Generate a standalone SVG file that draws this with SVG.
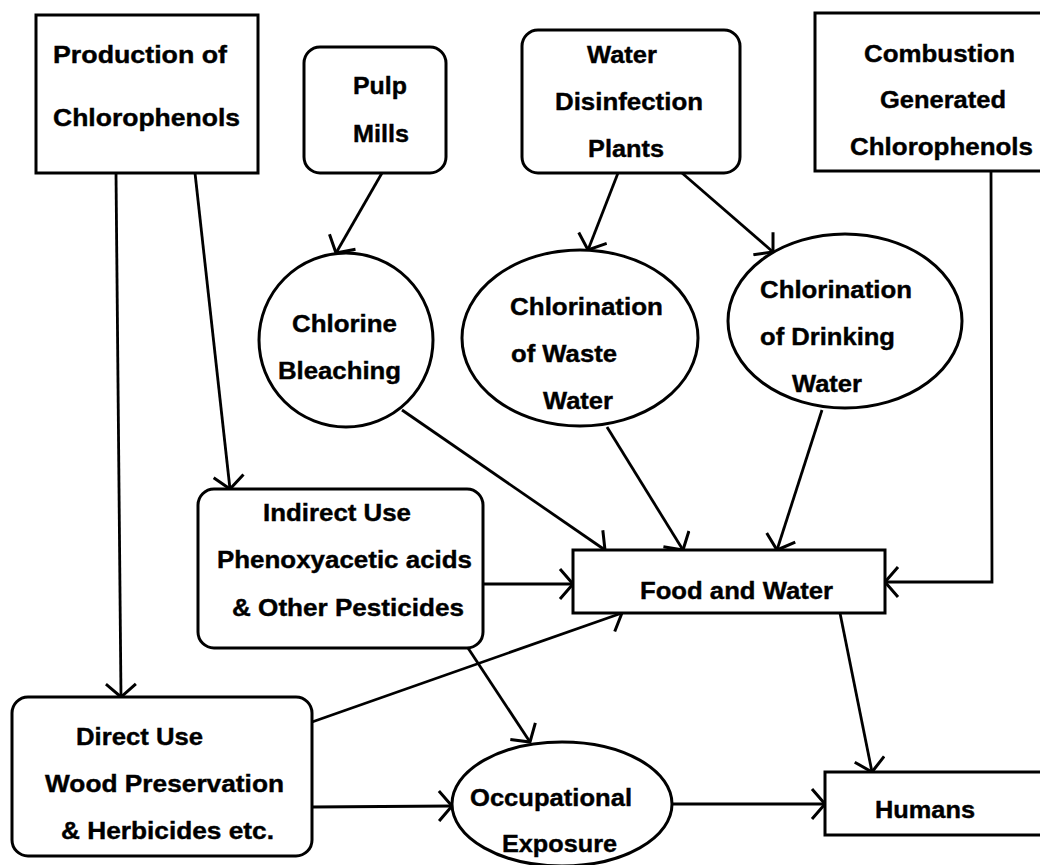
<svg xmlns="http://www.w3.org/2000/svg" width="1040" height="865" viewBox="0 0 1040 865">
<style>
.box{fill:#fff;stroke:#000;stroke-width:3}
.t{font-family:"Liberation Sans",Arial,sans-serif;font-weight:bold;font-size:24px;fill:#000;stroke:#000;stroke-width:0.4}
.c{fill:none;stroke:#000;stroke-width:2.8}
</style>
<defs>
<marker id="ah" markerUnits="userSpaceOnUse" viewBox="-16 -16 18 32" refX="0" refY="0" markerWidth="18" markerHeight="32" orient="auto">
<path d="M-13,-15 L0,0 L-13,15" fill="none" stroke="#000" stroke-width="3"/>
</marker>
</defs>
<rect width="1040" height="865" fill="#fff"/>
<g id="connectors">
<line class="c" x1="116" y1="173" x2="121" y2="697" marker-end="url(#ah)"/>
<line class="c" x1="195" y1="173" x2="230" y2="489" marker-end="url(#ah)"/>
<line class="c" x1="382" y1="173" x2="336" y2="253" stroke-width="3.4" marker-end="url(#ah)"/>
<line class="c" x1="618" y1="173" x2="588" y2="250" marker-end="url(#ah)"/>
<line class="c" x1="682" y1="173" x2="773" y2="252" marker-end="url(#ah)"/>
<polyline class="c" points="991,170 992,582 885,582" marker-end="url(#ah)"/>
<line class="c" x1="402" y1="410" x2="605" y2="550" marker-end="url(#ah)"/>
<line class="c" x1="607" y1="427" x2="683" y2="550" marker-end="url(#ah)"/>
<line class="c" x1="822" y1="410" x2="777" y2="550" marker-end="url(#ah)"/>
<line class="c" x1="483" y1="584" x2="573" y2="584" marker-end="url(#ah)"/>
<line class="c" x1="468" y1="648" x2="530" y2="742" marker-end="url(#ah)"/>
<line class="c" x1="312" y1="722" x2="622" y2="613" marker-end="url(#ah)"/>
<line class="c" x1="312" y1="807" x2="452" y2="806" marker-end="url(#ah)"/>
<line class="c" x1="840" y1="613" x2="872" y2="772" marker-end="url(#ah)"/>
<line class="c" x1="672" y1="804" x2="825" y2="804" marker-end="url(#ah)"/>
</g>
<g id="production">
<rect class="box" x="36" y="15" width="222" height="158"/>
<text class="t" x="53" y="63" textLength="174" lengthAdjust="spacingAndGlyphs">Production of</text>
<text class="t" x="53" y="126" textLength="187" lengthAdjust="spacingAndGlyphs">Chlorophenols</text>
</g>
<g id="pulp">
<rect class="box" x="304" y="47" width="142" height="126" rx="16"/>
<text class="t" x="353" y="94" textLength="54" lengthAdjust="spacingAndGlyphs">Pulp</text>
<text class="t" x="353" y="142" textLength="56" lengthAdjust="spacingAndGlyphs">Mills</text>
</g>
<g id="disinfection">
<rect class="box" x="522" y="30" width="218" height="143" rx="16"/>
<text class="t" x="587" y="63" textLength="70" lengthAdjust="spacingAndGlyphs">Water</text>
<text class="t" x="555" y="110" textLength="148" lengthAdjust="spacingAndGlyphs">Disinfection</text>
<text class="t" x="588" y="157" textLength="76" lengthAdjust="spacingAndGlyphs">Plants</text>
</g>
<g id="combustion">
<rect class="box" x="815" y="13" width="240" height="158"/>
<text class="t" x="864" y="62" textLength="151" lengthAdjust="spacingAndGlyphs">Combustion</text>
<text class="t" x="880" y="108" textLength="126" lengthAdjust="spacingAndGlyphs">Generated</text>
<text class="t" x="850" y="155" textLength="183" lengthAdjust="spacingAndGlyphs">Chlorophenols</text>
</g>
<g id="bleaching">
<circle class="box" cx="346" cy="340" r="87"/>
<text class="t" x="292" y="332" textLength="105" lengthAdjust="spacingAndGlyphs">Chlorine</text>
<text class="t" x="278" y="379" textLength="123" lengthAdjust="spacingAndGlyphs">Bleaching</text>
</g>
<g id="wastewater">
<ellipse class="box" cx="580" cy="338" rx="118" ry="88"/>
<text class="t" x="510" y="315" textLength="153" lengthAdjust="spacingAndGlyphs">Chlorination</text>
<text class="t" x="511" y="362" textLength="106" lengthAdjust="spacingAndGlyphs">of Waste</text>
<text class="t" x="543" y="409" textLength="70" lengthAdjust="spacingAndGlyphs">Water</text>
</g>
<g id="drinking">
<ellipse class="box" cx="845" cy="321" rx="117" ry="87"/>
<text class="t" x="760" y="298" textLength="152" lengthAdjust="spacingAndGlyphs">Chlorination</text>
<text class="t" x="760" y="345" textLength="135" lengthAdjust="spacingAndGlyphs">of Drinking</text>
<text class="t" x="792" y="392" textLength="70" lengthAdjust="spacingAndGlyphs">Water</text>
</g>
<g id="indirect">
<rect class="box" x="198" y="489" width="285" height="159" rx="16"/>
<text class="t" x="263" y="521" textLength="148" lengthAdjust="spacingAndGlyphs">Indirect Use</text>
<text class="t" x="217" y="568" textLength="255" lengthAdjust="spacingAndGlyphs">Phenoxyacetic acids</text>
<text class="t" x="232" y="616" textLength="232" lengthAdjust="spacingAndGlyphs">&amp; Other Pesticides</text>
</g>
<g id="food">
<rect class="box" x="573" y="550" width="312" height="63"/>
<text class="t" x="640" y="599" textLength="193" lengthAdjust="spacingAndGlyphs">Food and Water</text>
</g>
<g id="direct">
<rect class="box" x="12" y="697" width="300" height="159" rx="16"/>
<text class="t" x="76" y="745" textLength="127" lengthAdjust="spacingAndGlyphs">Direct Use</text>
<text class="t" x="45" y="792" textLength="239" lengthAdjust="spacingAndGlyphs">Wood Preservation</text>
<text class="t" x="61" y="839" textLength="213" lengthAdjust="spacingAndGlyphs">&amp; Herbicides etc.</text>
</g>
<g id="occupational">
<ellipse class="box" cx="562" cy="804" rx="110" ry="62"/>
<text class="t" x="470" y="806" textLength="162" lengthAdjust="spacingAndGlyphs">Occupational</text>
<text class="t" x="502" y="852" textLength="115" lengthAdjust="spacingAndGlyphs">Exposure</text>
</g>
<g id="humans">
<rect class="box" x="825" y="772" width="230" height="63"/>
<text class="t" x="875" y="818" textLength="100" lengthAdjust="spacingAndGlyphs">Humans</text>
</g>
</svg>
